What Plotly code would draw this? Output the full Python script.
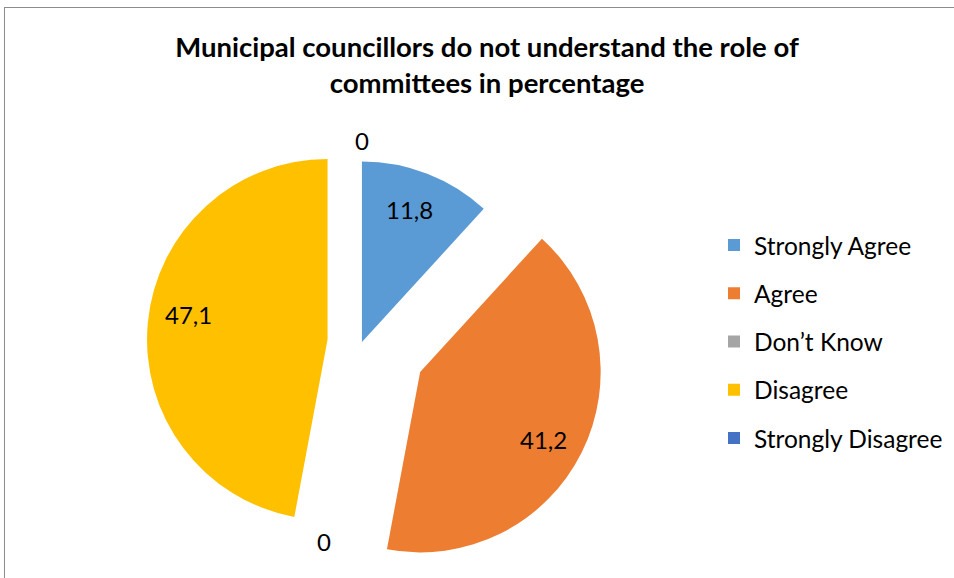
import math
import plotly.graph_objects as go

# ---- data ----
CATEGORIES = ["Strongly Agree", "Agree", "Don’t Know", "Disagree", "Strongly Disagree"]
VALUES = [11.8, 41.2, 0, 47.1, 0]
COLORS = ["#5B9BD5", "#ED7D31", "#A5A5A5", "#FFC000", "#4472C4"]
TITLE = "Municipal councillors do not understand the role of<br>committees in percentage"

# ---- layout constants (pixels) ----
W, H = 954, 578
CENTER = (361.7, 342.7)          # centre of the un-exploded pie
RADIUS = 180.5
EXPLODE = [0.004, 0.362, 0.0, 0.19, 0.0]   # slice explosion, fraction of radius
LABEL_R = 0.78                   # value labels inside slices
LABEL_TURN = [-1.4, 2.4, 0.0, 4.9, 0.0]    # small angular shift of value labels (deg)
ZERO_LABEL_R = 1.12              # labels of empty categories, outside the pie
FONT = "Lato"
TRANSPARENT = "rgba(0,0,0,0)"


def to_paper(x, y):
    return x / W, 1 - y / H


def direction(deg):
    t = math.radians(deg)
    return math.sin(t), -math.cos(t)


def fmt(v):
    return f"{v:.1f}".replace(".", ",") if v else "0"


# slice angles, clockwise from 12 o'clock
total = sum(VALUES)
mids = []
acc = 0.0
for v in VALUES:
    a0 = 360 * acc / total
    a1 = 360 * (acc + v) / total
    mids.append((a0 + a1) / 2)
    acc += v

fig = go.Figure()

# legend swatches: tiny pies tucked under the Disagree slice
lx, ly = 230, 421
for cat, col in zip(CATEGORIES, COLORS):
    fig.add_trace(go.Pie(
        labels=[cat], marker=dict(colors=[col], line=dict(width=0)),
        sort=False, textinfo="none", hoverinfo="skip", legendgroup=cat,
        domain=dict(x=[lx / W, (lx + 1.5) / W], y=[1 - (ly + 1.5) / H, 1 - ly / H]),
    ))

# one trace per non-empty slice, each shifted outward along its bisector
annotations = []
for i, (cat, v) in enumerate(zip(CATEGORIES, VALUES)):
    dx, dy = direction(mids[i])
    if v > 0:
        cx = CENTER[0] + EXPLODE[i] * RADIUS * dx
        cy = CENTER[1] + EXPLODE[i] * RADIUS * dy
        cols = [COLORS[j] if j == i else TRANSPARENT for j in range(len(VALUES))]
        fig.add_trace(go.Pie(
            labels=CATEGORIES, values=VALUES, sort=False, direction="clockwise",
            rotation=0, textinfo="none", showlegend=False,
            hoverinfo="label+value",
            marker=dict(colors=cols, line=dict(width=0)),
            domain=dict(x=[(cx - RADIUS) / W, (cx + RADIUS) / W],
                        y=[1 - (cy + RADIUS) / H, 1 - (cy - RADIUS) / H]),
        ))
        lx_, ly_ = direction(mids[i] + LABEL_TURN[i])
        tx, ty = cx + LABEL_R * RADIUS * lx_, cy + LABEL_R * RADIUS * ly_
    else:
        tx, ty = CENTER[0] + ZERO_LABEL_R * RADIUS * dx, CENTER[1] + ZERO_LABEL_R * RADIUS * dy
    px, py = to_paper(tx, ty)
    annotations.append(dict(
        x=px, y=py, xref="paper", yref="paper", text=fmt(v), showarrow=False,
        xanchor="center", yanchor="middle",
        font=dict(family=FONT, size=24, color="#000000"),
    ))

# chart frame
border = dict(color="#8C8C8C", width=1)
shapes = [
    dict(type="line", xref="paper", yref="paper",
         x0=4 / W, x1=1, y0=1 - 7.5 / H, y1=1 - 7.5 / H, line=border),
    dict(type="line", xref="paper", yref="paper",
         x0=4.5 / W, x1=4.5 / W, y0=0, y1=1 - 7.5 / H, line=border),
]

fig.update_layout(
    width=W, height=H,
    margin=dict(l=0, r=0, t=0, b=0, pad=0),
    paper_bgcolor="white", plot_bgcolor="white",
    title=dict(text=TITLE, x=487 / W, xanchor="center", y=1 - 57 / H, yanchor="middle",
               yref="container",
               font=dict(family=FONT, size=27.5, color="#000000", weight="bold")),
    legend=dict(x=714 / W, y=1 - 222.6 / H, xanchor="left", yanchor="top",
                font=dict(family=FONT, size=24.5, color="#000000"),
                tracegroupgap=13.4, bgcolor="rgba(0,0,0,0)", borderwidth=0),
    annotations=annotations,
    shapes=shapes,
)

fig.write_html("out.html")
